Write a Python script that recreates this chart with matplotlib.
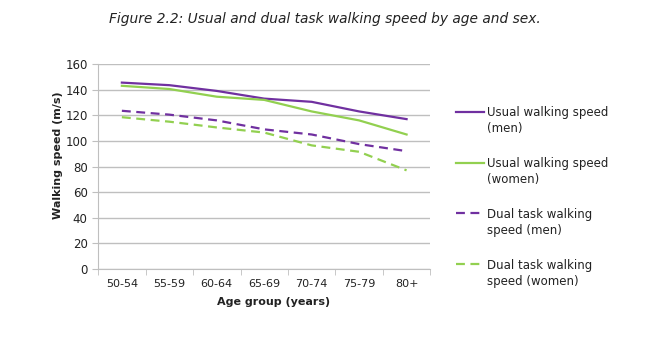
import numpy as np
import matplotlib.pyplot as plt
from matplotlib.legend_handler import HandlerLine2D

age_groups = ["50-54", "55-59", "60-64", "65-69", "70-74", "75-79", "80+"]
usual_men = [145.5, 143.5, 139, 133, 130.5, 123, 117]
usual_women = [143, 140.5, 134.5, 132, 123, 116, 105]
dual_men = [123.5, 120.5, 116, 109, 105, 97.5, 92]
dual_women = [118.5, 115, 110.5, 106.5, 96.5, 91.5, 77]

purple = "#7030A0"
green = "#92D050"
grey = "#BFBFBF"


class TopLineHandler(HandlerLine2D):
    # put the legend line next to the first line of a two-line label
    def create_artists(self, legend, orig_handle, xdescent, ydescent,
                       width, height, fontsize, trans):
        arts = super().create_artists(legend, orig_handle, xdescent, ydescent,
                                      width, height, fontsize, trans)
        for a in arts:
            a.set_ydata(np.asarray(a.get_ydata()) + 0.85 * fontsize)
        return arts


fig = plt.figure(figsize=(6.5, 3.48), dpi=100)
ax = fig.add_axes([0.151, 0.227, 0.511, 0.589])

x = np.arange(len(age_groups))
ax.plot(x, usual_men, color=purple, lw=1.6, label="Usual walking speed\n(men)")
ax.plot(x, usual_women, color=green, lw=1.6, label="Usual walking speed\n(women)")
ax.plot(x, dual_men, color=purple, lw=1.6, dashes=(4, 2.5), label="Dual task walking\nspeed (men)")
ax.plot(x, dual_women, color=green, lw=1.6, dashes=(4, 2.5), label="Dual task walking\nspeed (women)")

ax.set_xlim(-0.5, len(age_groups) - 0.5)
ax.set_ylim(0, 160)
ax.set_yticks(np.arange(0, 161, 20))
ax.set_xticks(x)
ax.set_xticklabels(age_groups)
ax.set_xticks(np.arange(-0.5, len(age_groups)), minor=True)
ax.tick_params(axis="x", which="major", length=0, pad=7, labelsize=8, colors="#222222")
ax.tick_params(axis="x", which="minor", length=4, color=grey)
ax.tick_params(axis="y", length=4, color=grey, labelsize=8.5, labelcolor="#222222")

ax.grid(axis="y", color=grey, lw=1)
ax.set_axisbelow(True)
for s in ["top", "right"]:
    ax.spines[s].set_visible(False)
for s in ["left", "bottom"]:
    ax.spines[s].set_color(grey)

ax.set_xlabel("Age group (years)", fontsize=8, fontweight="bold", color="#222222")
ax.set_ylabel("Walking speed (m/s)", fontsize=8, fontweight="bold", color="#222222")
ax.xaxis.set_label_coords(0.527, -0.135)
ax.yaxis.set_label_coords(-0.106, 0.556)

fig.text(0.5, 0.945, "Figure 2.2: Usual and dual task walking speed by age and sex.",
         ha="center", va="center", fontsize=9.9, style="italic", color="#222222")

leg = fig.legend(loc="upper left", bbox_to_anchor=(0.694, 0.708), frameon=False, fontsize=8.5,
                 handlelength=2.4, handletextpad=0.25, labelspacing=1.85, borderaxespad=0,
                 handler_map={plt.Line2D: TopLineHandler()})
for t in leg.get_texts():
    t.set_linespacing(1.3)
    t.set_color("#222222")

fig.savefig("out.png", dpi=100)
